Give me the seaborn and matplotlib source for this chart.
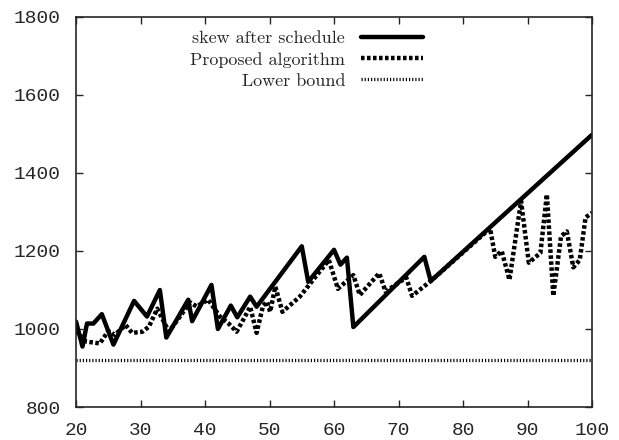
import matplotlib
matplotlib.use("Agg")
import matplotlib.pyplot as plt
import seaborn as sns

# skew after schedule (solid)
skew_x = [20, 21, 21.7, 22.7, 24, 25.8, 29, 31, 33, 34, 37.4, 38, 41, 42, 44, 45,
          47, 48, 55, 56, 60, 61, 62, 63, 74, 75, 100]
skew_y = [1019, 955, 1014, 1014, 1038, 960, 1072, 1032, 1100, 978, 1075, 1020, 1113,
          1000, 1060, 1030, 1083, 1057, 1212, 1121, 1203, 1165, 1183, 1005, 1185, 1123, 1498]

# proposed algorithm (dashed)
prop_x = [20, 21.5, 23.7, 25, 26, 27.7, 28.7, 30.3, 31.3, 32.6, 34.4, 37.7, 38.7, 40.5,
          42.3, 43.6, 44.9, 46.2, 47, 48, 49, 49.6, 50.1, 50.9, 52, 54.7, 59.2, 60.6,
          63, 64, 67, 68, 71.2, 72.1, 75, 84.2, 85, 86, 87.2, 89, 90.2, 92, 93, 94,
          95.2, 96.1, 97.1, 98.1, 99, 100]
prop_y = [995, 968, 963, 995, 985, 1010, 990, 993, 1006, 1052, 993, 1068, 1058, 1075,
          1032, 1015, 993, 1032, 1057, 990, 1060, 1070, 1044, 1109, 1044, 1083, 1177, 1103,
          1138, 1087, 1143, 1096, 1132, 1085, 1123, 1258, 1185, 1200, 1126, 1328, 1170, 1195,
          1345, 1085, 1238, 1250, 1158, 1177, 1286, 1298]

# lower bound (dotted)
low_x = [20, 100]
low_y = [921, 921]

sns.set_style("ticks")
fig = plt.figure(figsize=(6.19, 4.40), dpi=100)
ax = fig.add_axes([0.1228, 0.075, 0.8336, 0.8864])

sns.lineplot(x=skew_x, y=skew_y, ax=ax, color="black", linewidth=3.2,
             label="skew after schedule", errorbar=None)
sns.lineplot(x=prop_x, y=prop_y, ax=ax, color="black", linewidth=3.2,
             linestyle=(0, (0.8, 0.55)), label="Proposed algorithm", errorbar=None)
sns.lineplot(x=low_x, y=low_y, ax=ax, color="black", linewidth=2.4,
             linestyle=(0, (0.35, 0.6)), label="Lower bound", errorbar=None)

ax.set_xlim(20, 100)
ax.set_ylim(800, 1800)
ax.set_xticks(range(20, 101, 10))
ax.set_yticks(range(800, 1801, 200))
ax.tick_params(direction="in", length=5, width=1, top=True, right=True, pad=11)
for lbl in ax.get_xticklabels() + ax.get_yticklabels():
    lbl.set_family("Liberation Mono")
    lbl.set_fontsize(14)
for sp in ax.spines.values():
    sp.set_visible(True)
    sp.set_linewidth(1.2)

leg = ax.legend(loc="upper right", bbox_to_anchor=(0.672, 0.965), frameon=False,
                markerfirst=False, borderaxespad=0, borderpad=0, handlelength=3.4,
                labelspacing=0.3, handletextpad=0.9,
                prop={"family": "cmr10", "size": 13})

fig.savefig("out.png", dpi=100)
